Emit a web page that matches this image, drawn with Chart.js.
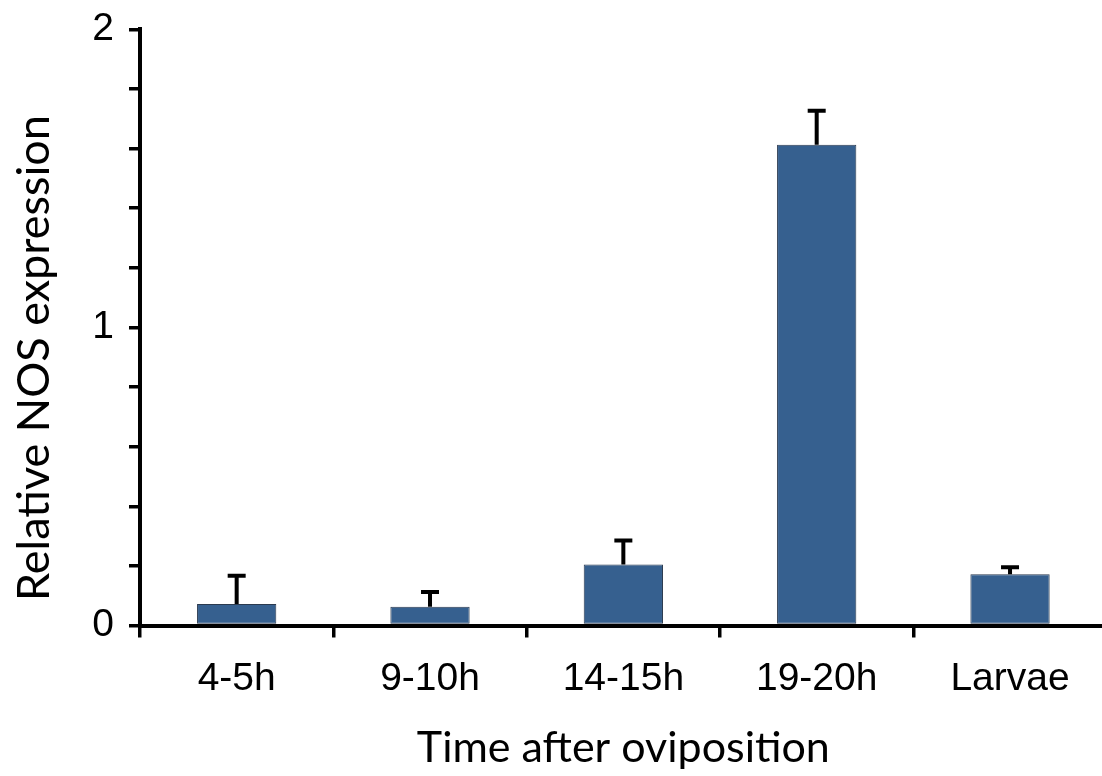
<!DOCTYPE html>
<html>
<head>
<meta charset="utf-8">
<script src="https://cdn.jsdelivr.net/npm/chart.js@4/dist/chart.umd.min.js"></script>
<style>
html,body{margin:0;padding:0;background:#fff;overflow:hidden;}
#wrap{width:1110px;height:776px;}
</style>
</head>
<body>
<div id="wrap"><canvas id="c" width="1110" height="776"></canvas></div>
<script>
const categories = ['4-5h', '9-10h', '14-15h', '19-20h', 'Larvae'];
const meanValues = [0.072, 0.063, 0.205, 1.613, 0.172];
const errorValues = [0.095, 0.049, 0.080, 0.114, 0.023];
const yMin = 0;
const yMax = 2;
const yStep = 0.2;
const yLabeledTicks = [0, 1, 2];
const xTitle = 'Time after oviposition';
const yTitle = 'Relative NOS expression';

const errorBarPlugin = {
  id: 'errorBars',
  afterDatasetsDraw(chart) {
    const meta = chart.getDatasetMeta(0);
    const ys = chart.scales.y;
    const ctx = chart.ctx;
    ctx.save();
    ctx.strokeStyle = '#000';
    ctx.lineWidth = 4;
    ctx.lineCap = 'butt';
    meta.data.forEach((el, i) => {
      const top = ys.getPixelForValue(meanValues[i] + errorValues[i]);
      const base = ys.getPixelForValue(meanValues[i]);
      ctx.beginPath();
      ctx.moveTo(el.x, base);
      ctx.lineTo(el.x, top);
      ctx.moveTo(el.x - 9, top);
      ctx.lineTo(el.x + 9, top);
      ctx.stroke();
    });
    ctx.restore();
  }
};

const titlePlugin = {
  id: 'axisTitles',
  afterDraw(chart) {
    const ctx = chart.ctx;
    const ca = chart.chartArea;
    ctx.save();
    ctx.fillStyle = '#000';
    ctx.textAlign = 'center';
    ctx.textBaseline = 'middle';
    ctx.font = '43px Lato';
    ctx.fillText(xTitle, (ca.left + ca.right) / 2, 748);
    ctx.font = '45px Lato';
    ctx.translate(34, 358);
    ctx.rotate(-Math.PI / 2);
    ctx.fillText(yTitle, 0, 0);
    ctx.restore();
  }
};

new Chart(document.getElementById('c'), {
  type: 'bar',
  data: {
    labels: categories,
    datasets: [{
      data: meanValues,
      backgroundColor: '#36608F',
      borderColor: '#2b3a4f',
      borderWidth: 1,
      borderSkipped: false,
      categoryPercentage: 1,
      barPercentage: 0.41
    }]
  },
  options: {
    responsive: false,
    animation: false,
    layout: { padding: { top: 29.3, right: 3.3, left: 0, bottom: 0 } },
    plugins: { legend: { display: false }, tooltip: { enabled: false } },
    scales: {
      x: {
        z: 1,
        grid: { drawOnChartArea: false, drawTicks: true, tickLength: 12, lineWidth: 3.5, color: '#000', offset: true },
        border: { display: true, color: '#000', width: 4 },
        ticks: { color: '#000', font: { family: 'Liberation Sans', size: 39 }, padding: 18, maxRotation: 0, autoSkip: false },
        afterFit(scale) { scale.height = 150.5; scale.paddingLeft = 0; scale.paddingRight = 0; }
      },
      y: {
        z: 1,
        min: yMin,
        max: yMax,
        grid: { drawOnChartArea: false, drawTicks: true, tickLength: 11, lineWidth: 3.5, color: '#000' },
        border: { display: true, color: '#000', width: 4 },
        ticks: {
          stepSize: yStep,
          autoSkip: false,
          color: '#000',
          padding: 15,
          font: { family: 'Liberation Sans', size: 39 },
          callback(value) {
            const r = Math.round(value);
            return (Math.abs(value - r) < 1e-6 && yLabeledTicks.includes(r)) ? String(r) : '';
          }
        },
        afterFit(scale) { scale.width = 140; scale.paddingTop = 0; scale.paddingBottom = 0; }
      }
    }
  },
  plugins: [errorBarPlugin, titlePlugin]
});
</script>
</body>
</html>
